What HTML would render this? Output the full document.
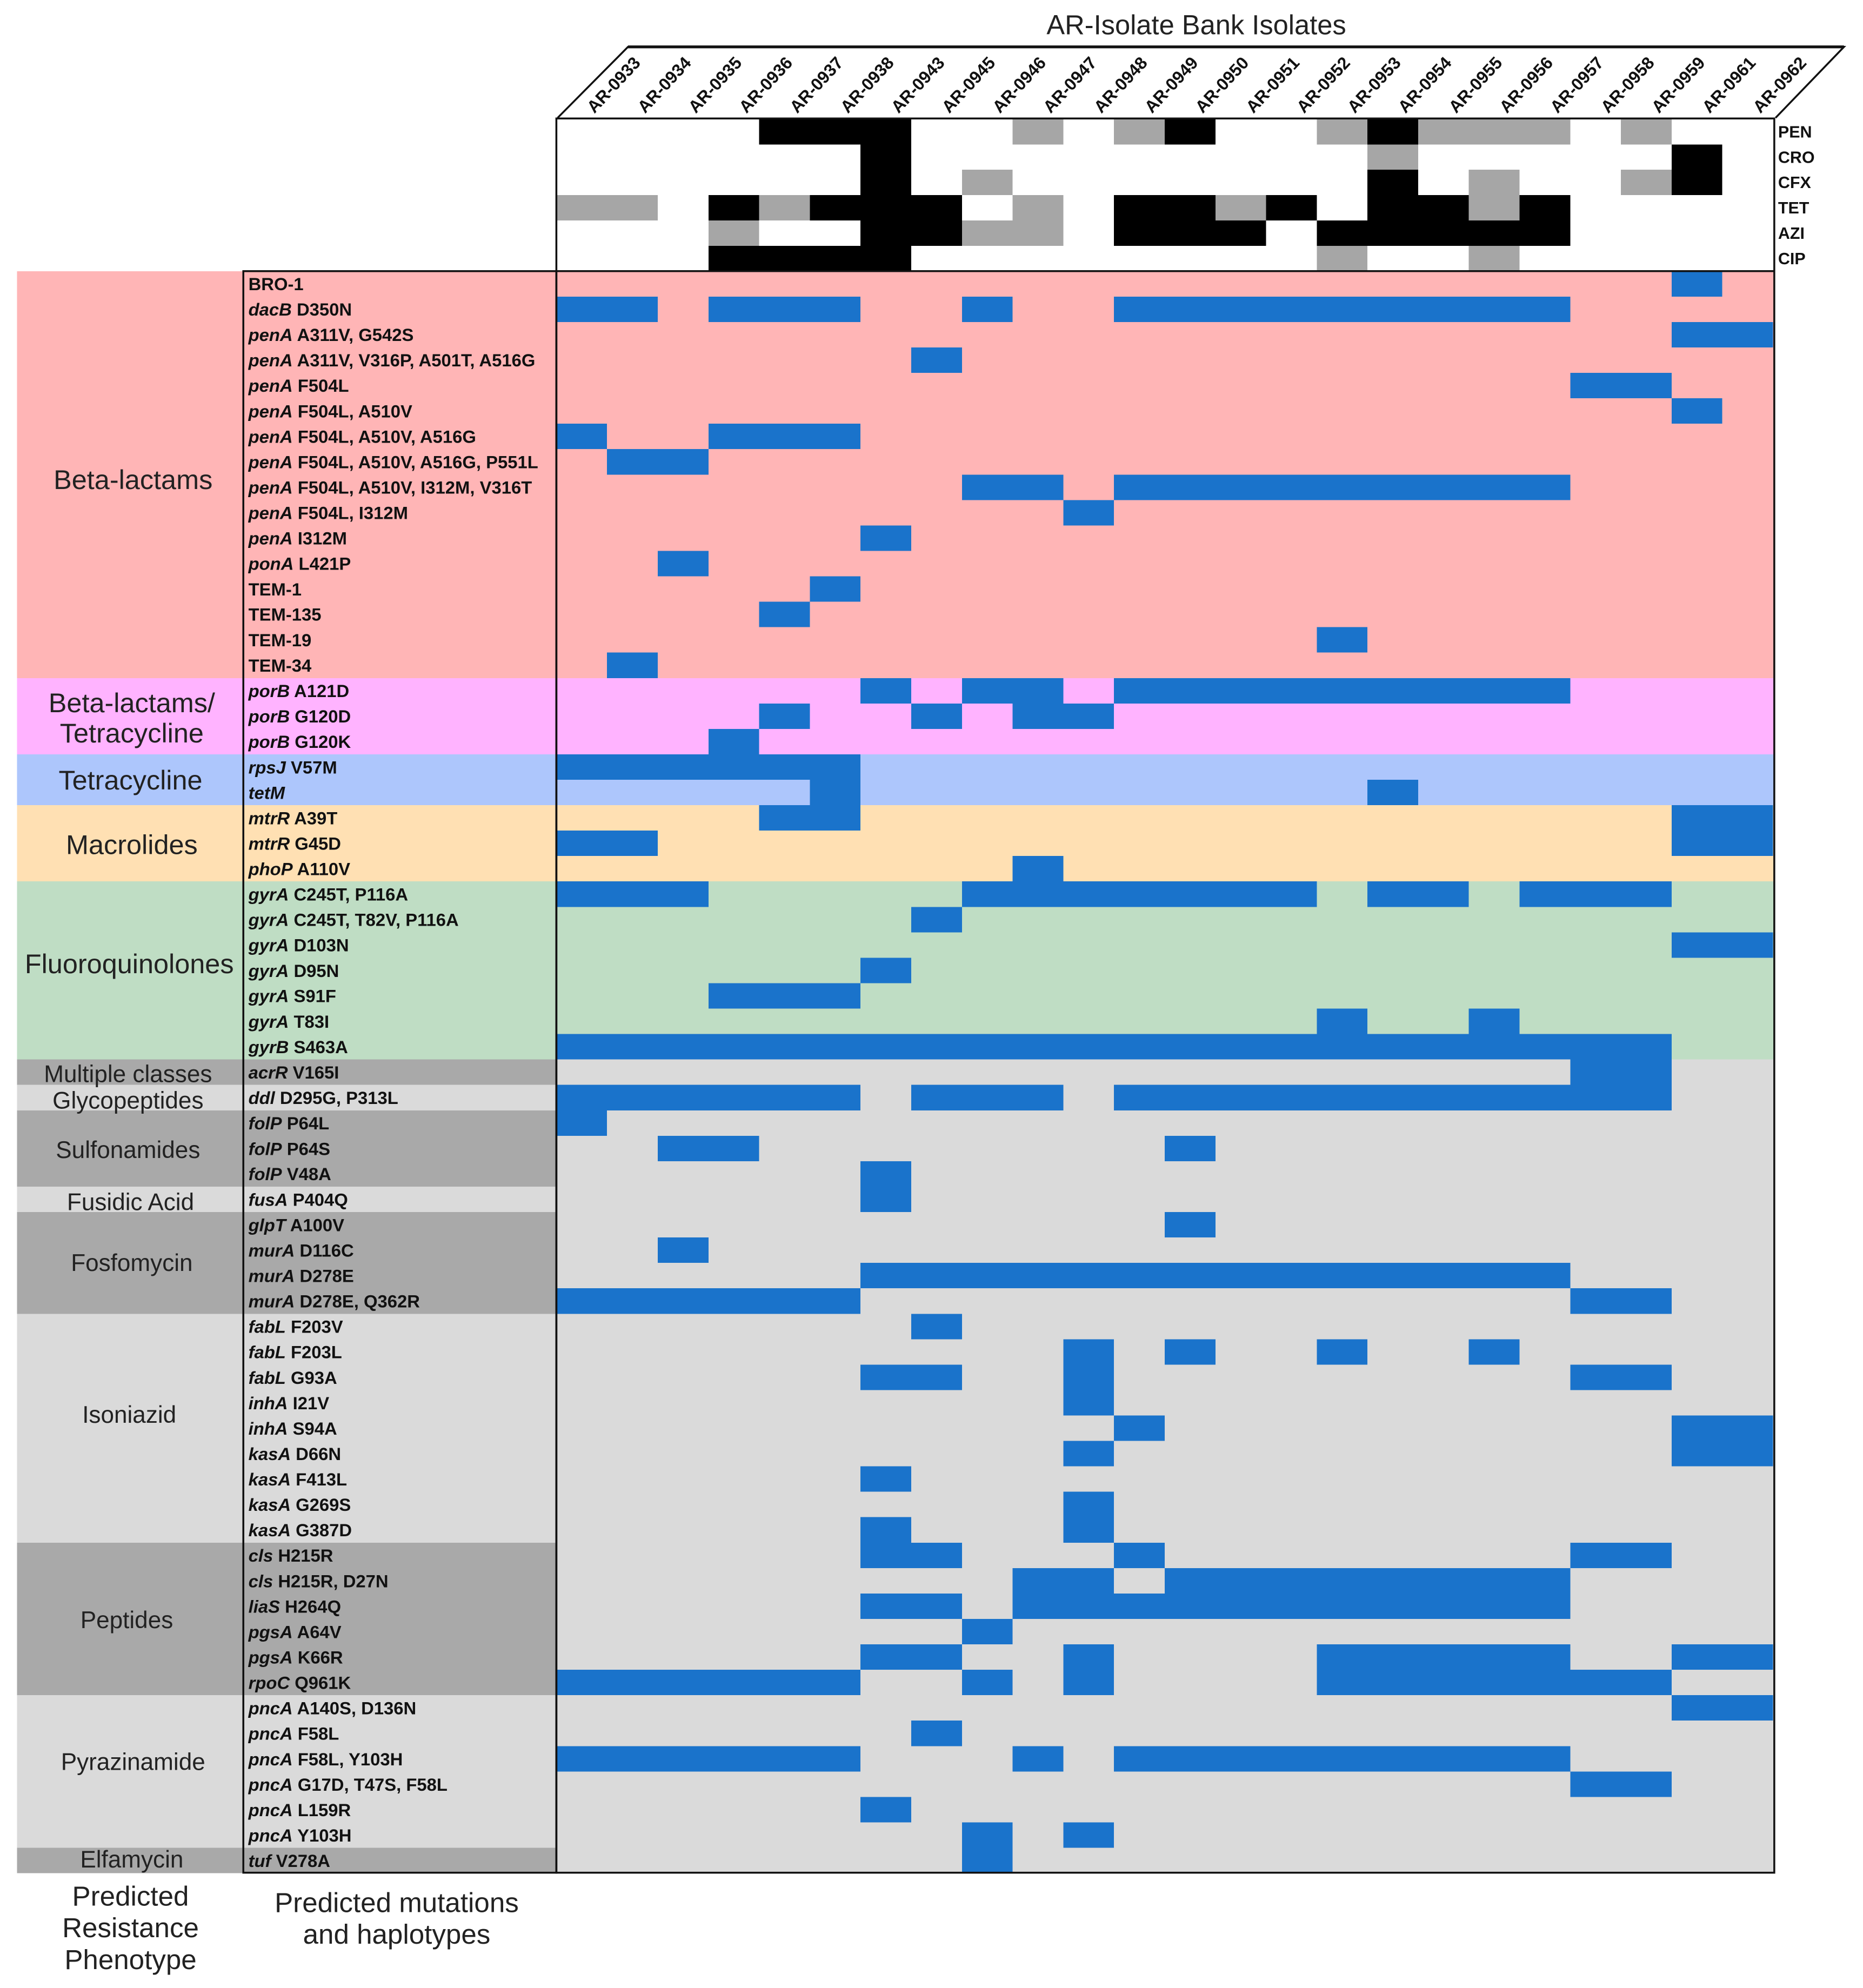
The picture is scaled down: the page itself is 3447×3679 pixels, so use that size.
<!DOCTYPE html>
<html><head><meta charset="utf-8"><style>
html,body{margin:0;padding:0;background:#fff;}
svg{display:block;}
text{font-family:"Liberation Sans",Arial,sans-serif;}
.m{font-size:14px;font-weight:bold;fill:#111;}
.h{font-size:13.6px;font-weight:bold;fill:#111;}
.c{font-size:21.5px;fill:#222;text-anchor:middle;}
.s{font-size:18.8px;fill:#222;text-anchor:middle;}
.f{font-size:21.8px;fill:#222;text-anchor:middle;}
.p{font-size:13px;font-weight:bold;fill:#111;}
</style></head><body>
<svg xmlns="http://www.w3.org/2000/svg" width="3447" height="3679" viewBox="0 0 1470 1569" preserveAspectRatio="none">
<rect width="1470" height="1569" fill="#fff"/>
<g transform="translate(0,214) scale(1,20.07)" shape-rendering="crispEdges">
<rect x="13.5" y="0" width="1386.5" height="16" fill="#FFB5B6"/>
<rect x="13.5" y="16" width="1386.5" height="3" fill="#FFB3FF"/>
<rect x="13.5" y="19" width="1386.5" height="2" fill="#ADC6FC"/>
<rect x="13.5" y="21" width="1386.5" height="3" fill="#FFE0B3"/>
<rect x="13.5" y="24" width="1386.5" height="7" fill="#BFDDC4"/>
<rect x="439" y="31" width="961" height="32" fill="#DADADA"/>
<rect x="13.5" y="31" width="425.5" height="1" fill="#A9A9A9"/>
<rect x="13.5" y="32" width="425.5" height="1" fill="#DADADA"/>
<rect x="13.5" y="33" width="425.5" height="3" fill="#A9A9A9"/>
<rect x="13.5" y="36" width="425.5" height="1" fill="#DADADA"/>
<rect x="13.5" y="37" width="425.5" height="4" fill="#A9A9A9"/>
<rect x="13.5" y="41" width="425.5" height="9" fill="#DADADA"/>
<rect x="13.5" y="50" width="425.5" height="6" fill="#A9A9A9"/>
<rect x="13.5" y="56" width="425.5" height="6" fill="#DADADA"/>
<rect x="13.5" y="62" width="425.5" height="1" fill="#A9A9A9"/>
</g>
<g transform="translate(439,94) scale(40,20)" shape-rendering="crispEdges">
<g fill="#000">
<rect x="4" y="0" width="3" height="1"/><rect x="12" y="0" width="1" height="1"/><rect x="16" y="0" width="1" height="1"/>
<rect x="6" y="1" width="1" height="1"/><rect x="22" y="1" width="1" height="1"/>
<rect x="6" y="2" width="1" height="1"/><rect x="16" y="2" width="1" height="1"/><rect x="22" y="2" width="1" height="1"/>
<rect x="3" y="3" width="1" height="1"/><rect x="5" y="3" width="3" height="1"/><rect x="11" y="3" width="2" height="1"/><rect x="14" y="3" width="1" height="1"/><rect x="16" y="3" width="2" height="1"/><rect x="19" y="3" width="1" height="1"/>
<rect x="6" y="4" width="2" height="1"/><rect x="11" y="4" width="3" height="1"/><rect x="15" y="4" width="5" height="1"/>
<rect x="3" y="5" width="4" height="1"/>
</g>
<g fill="#A6A6A6">
<rect x="9" y="0" width="1" height="1"/><rect x="11" y="0" width="1" height="1"/><rect x="15" y="0" width="1" height="1"/><rect x="17" y="0" width="3" height="1"/><rect x="21" y="0" width="1" height="1"/>
<rect x="16" y="1" width="1" height="1"/>
<rect x="8" y="2" width="1" height="1"/><rect x="18" y="2" width="1" height="1"/><rect x="21" y="2" width="1" height="1"/>
<rect x="0" y="3" width="2" height="1"/><rect x="4" y="3" width="1" height="1"/><rect x="9" y="3" width="1" height="1"/><rect x="13" y="3" width="1" height="1"/><rect x="18" y="3" width="1" height="1"/>
<rect x="3" y="4" width="1" height="1"/><rect x="8" y="4" width="2" height="1"/>
<rect x="15" y="5" width="1" height="1"/><rect x="18" y="5" width="1" height="1"/>
</g>
</g>
<g transform="translate(439,214) scale(40,20.07)" fill="#1A73CB" shape-rendering="crispEdges">
<rect x="22" y="0" width="1" height="1"/>
<rect x="0" y="1" width="2" height="1"/><rect x="3" y="1" width="3" height="1"/><rect x="8" y="1" width="1" height="1"/><rect x="11" y="1" width="9" height="1"/>
<rect x="22" y="2" width="2" height="1"/>
<rect x="7" y="3" width="1" height="1"/>
<rect x="20" y="4" width="2" height="1"/>
<rect x="22" y="5" width="1" height="1"/>
<rect x="0" y="6" width="1" height="1"/><rect x="3" y="6" width="3" height="1"/>
<rect x="1" y="7" width="2" height="1"/>
<rect x="8" y="8" width="2" height="1"/><rect x="11" y="8" width="9" height="1"/>
<rect x="10" y="9" width="1" height="1"/>
<rect x="6" y="10" width="1" height="1"/>
<rect x="2" y="11" width="1" height="1"/>
<rect x="5" y="12" width="1" height="1"/>
<rect x="4" y="13" width="1" height="1"/>
<rect x="15" y="14" width="1" height="1"/>
<rect x="1" y="15" width="1" height="1"/>
<rect x="6" y="16" width="1" height="1"/><rect x="8" y="16" width="2" height="1"/><rect x="11" y="16" width="9" height="1"/>
<rect x="4" y="17" width="1" height="1"/><rect x="7" y="17" width="1" height="1"/><rect x="9" y="17" width="2" height="1"/>
<rect x="3" y="18" width="1" height="1"/>
<rect x="0" y="19" width="6" height="1"/>
<rect x="5" y="20" width="1" height="1"/><rect x="16" y="20" width="1" height="1"/>
<rect x="4" y="21" width="2" height="1"/><rect x="22" y="21" width="2" height="1"/>
<rect x="0" y="22" width="2" height="1"/><rect x="22" y="22" width="2" height="1"/>
<rect x="9" y="23" width="1" height="1"/>
<rect x="0" y="24" width="3" height="1"/><rect x="8" y="24" width="7" height="1"/><rect x="16" y="24" width="2" height="1"/><rect x="19" y="24" width="3" height="1"/>
<rect x="7" y="25" width="1" height="1"/>
<rect x="22" y="26" width="2" height="1"/>
<rect x="6" y="27" width="1" height="1"/>
<rect x="3" y="28" width="3" height="1"/>
<rect x="15" y="29" width="1" height="1"/><rect x="18" y="29" width="1" height="1"/>
<rect x="0" y="30" width="22" height="1"/>
<rect x="20" y="31" width="2" height="1"/>
<rect x="0" y="32" width="6" height="1"/><rect x="7" y="32" width="3" height="1"/><rect x="11" y="32" width="11" height="1"/>
<rect x="0" y="33" width="1" height="1"/>
<rect x="2" y="34" width="2" height="1"/><rect x="12" y="34" width="1" height="1"/>
<rect x="6" y="35" width="1" height="2"/>
<rect x="12" y="37" width="1" height="1"/>
<rect x="2" y="38" width="1" height="1"/>
<rect x="6" y="39" width="14" height="1"/>
<rect x="0" y="40" width="6" height="1"/><rect x="20" y="40" width="2" height="1"/>
<rect x="7" y="41" width="1" height="1"/>
<rect x="10" y="42" width="1" height="1"/><rect x="12" y="42" width="1" height="1"/><rect x="15" y="42" width="1" height="1"/><rect x="18" y="42" width="1" height="1"/>
<rect x="6" y="43" width="2" height="1"/><rect x="10" y="43" width="1" height="1"/><rect x="20" y="43" width="2" height="1"/>
<rect x="10" y="44" width="1" height="1"/>
<rect x="11" y="45" width="1" height="1"/><rect x="22" y="45" width="2" height="2"/>
<rect x="10" y="46" width="1" height="1"/>
<rect x="6" y="47" width="1" height="1"/>
<rect x="10" y="48" width="1" height="1"/>
<rect x="6" y="49" width="1" height="1"/><rect x="10" y="49" width="1" height="1"/>
<rect x="6" y="50" width="2" height="1"/><rect x="11" y="50" width="1" height="1"/><rect x="20" y="50" width="2" height="1"/>
<rect x="9" y="51" width="2" height="1"/><rect x="12" y="51" width="8" height="1"/>
<rect x="6" y="52" width="2" height="1"/><rect x="9" y="52" width="11" height="1"/>
<rect x="8" y="53" width="1" height="1"/>
<rect x="6" y="54" width="2" height="1"/><rect x="10" y="54" width="1" height="1"/><rect x="15" y="54" width="5" height="1"/><rect x="22" y="54" width="2" height="1"/>
<rect x="0" y="55" width="6" height="1"/><rect x="8" y="55" width="1" height="1"/><rect x="10" y="55" width="1" height="1"/><rect x="15" y="55" width="7" height="1"/>
<rect x="22" y="56" width="2" height="1"/>
<rect x="7" y="57" width="1" height="1"/>
<rect x="0" y="58" width="6" height="1"/><rect x="9" y="58" width="1" height="1"/><rect x="11" y="58" width="9" height="1"/>
<rect x="20" y="59" width="2" height="1"/>
<rect x="6" y="60" width="1" height="1"/>
<rect x="8" y="61" width="1" height="2"/><rect x="10" y="61" width="1" height="1"/>
</g>
<g fill="none" stroke="#111">
<rect x="439" y="93.5" width="961" height="1384.5" stroke-width="1.5"/>
<rect x="192" y="214" width="247" height="1264" stroke-width="1.5"/>
<line x1="439" y1="214" x2="1400" y2="214" stroke-width="1.5"/>
<polyline points="440,93 495.5,37 1455,37 1401,93" stroke-width="1.5"/>
<line x1="495.5" y1="37" x2="1455" y2="37" stroke-width="2.2"/>
</g>
<text x="944" y="27" style="font-size:21.6px;fill:#222;" text-anchor="middle">AR-Isolate Bank Isolates</text>
<g class="h">
<text transform="translate(469,90) rotate(-47)">AR-0933</text>
<text transform="translate(509,90) rotate(-47)">AR-0934</text>
<text transform="translate(549,90) rotate(-47)">AR-0935</text>
<text transform="translate(589,90) rotate(-47)">AR-0936</text>
<text transform="translate(629,90) rotate(-47)">AR-0937</text>
<text transform="translate(669,90) rotate(-47)">AR-0938</text>
<text transform="translate(709,90) rotate(-47)">AR-0943</text>
<text transform="translate(749,90) rotate(-47)">AR-0945</text>
<text transform="translate(789,90) rotate(-47)">AR-0946</text>
<text transform="translate(829,90) rotate(-47)">AR-0947</text>
<text transform="translate(869,90) rotate(-47)">AR-0948</text>
<text transform="translate(909,90) rotate(-47)">AR-0949</text>
<text transform="translate(949,90) rotate(-47)">AR-0950</text>
<text transform="translate(989,90) rotate(-47)">AR-0951</text>
<text transform="translate(1029,90) rotate(-47)">AR-0952</text>
<text transform="translate(1069,90) rotate(-47)">AR-0953</text>
<text transform="translate(1109,90) rotate(-47)">AR-0954</text>
<text transform="translate(1149,90) rotate(-47)">AR-0955</text>
<text transform="translate(1189,90) rotate(-47)">AR-0956</text>
<text transform="translate(1229,90) rotate(-47)">AR-0957</text>
<text transform="translate(1269,90) rotate(-47)">AR-0958</text>
<text transform="translate(1309,90) rotate(-47)">AR-0959</text>
<text transform="translate(1349,90) rotate(-47)">AR-0961</text>
<text transform="translate(1389,90) rotate(-47)">AR-0962</text>
</g>
<g class="p">
<text x="1403" y="108.5">PEN</text>
<text x="1403" y="128.5">CRO</text>
<text x="1403" y="148.5">CFX</text>
<text x="1403" y="168.5">TET</text>
<text x="1403" y="188.5">AZI</text>
<text x="1403" y="208.5">CIP</text>
</g>
<g class="m">
<text x="196" y="229">BRO-1</text>
<text x="196" y="249.1"><tspan font-style="italic">dacB</tspan> D350N</text>
<text x="196" y="269.1"><tspan font-style="italic">penA</tspan> A311V, G542S</text>
<text x="196" y="289.2"><tspan font-style="italic">penA</tspan> A311V, V316P, A501T, A516G</text>
<text x="196" y="309.3"><tspan font-style="italic">penA</tspan> F504L</text>
<text x="196" y="329.4"><tspan font-style="italic">penA</tspan> F504L, A510V</text>
<text x="196" y="349.4"><tspan font-style="italic">penA</tspan> F504L, A510V, A516G</text>
<text x="196" y="369.5"><tspan font-style="italic">penA</tspan> F504L, A510V, A516G, P551L</text>
<text x="196" y="389.6"><tspan font-style="italic">penA</tspan> F504L, A510V, I312M, V316T</text>
<text x="196" y="409.7"><tspan font-style="italic">penA</tspan> F504L, I312M</text>
<text x="196" y="429.7"><tspan font-style="italic">penA</tspan> I312M</text>
<text x="196" y="449.8"><tspan font-style="italic">ponA</tspan> L421P</text>
<text x="196" y="469.9">TEM-1</text>
<text x="196" y="489.9">TEM-135</text>
<text x="196" y="510.0">TEM-19</text>
<text x="196" y="530.1">TEM-34</text>
<text x="196" y="550.2"><tspan font-style="italic">porB</tspan> A121D</text>
<text x="196" y="570.2"><tspan font-style="italic">porB</tspan> G120D</text>
<text x="196" y="590.3"><tspan font-style="italic">porB</tspan> G120K</text>
<text x="196" y="610.4"><tspan font-style="italic">rpsJ</tspan> V57M</text>
<text x="196" y="630.5"><tspan font-style="italic">tetM</tspan></text>
<text x="196" y="650.5"><tspan font-style="italic">mtrR</tspan> A39T</text>
<text x="196" y="670.6"><tspan font-style="italic">mtrR</tspan> G45D</text>
<text x="196" y="690.7"><tspan font-style="italic">phoP</tspan> A110V</text>
<text x="196" y="710.7"><tspan font-style="italic">gyrA</tspan> C245T, P116A</text>
<text x="196" y="730.8"><tspan font-style="italic">gyrA</tspan> C245T, T82V, P116A</text>
<text x="196" y="750.9"><tspan font-style="italic">gyrA</tspan> D103N</text>
<text x="196" y="771.0"><tspan font-style="italic">gyrA</tspan> D95N</text>
<text x="196" y="791.0"><tspan font-style="italic">gyrA</tspan> S91F</text>
<text x="196" y="811.1"><tspan font-style="italic">gyrA</tspan> T83I</text>
<text x="196" y="831.2"><tspan font-style="italic">gyrB</tspan> S463A</text>
<text x="196" y="851.2"><tspan font-style="italic">acrR</tspan> V165I</text>
<text x="196" y="871.3"><tspan font-style="italic">ddl</tspan> D295G, P313L</text>
<text x="196" y="891.4"><tspan font-style="italic">folP</tspan> P64L</text>
<text x="196" y="911.5"><tspan font-style="italic">folP</tspan> P64S</text>
<text x="196" y="931.5"><tspan font-style="italic">folP</tspan> V48A</text>
<text x="196" y="951.6"><tspan font-style="italic">fusA</tspan> P404Q</text>
<text x="196" y="971.7"><tspan font-style="italic">glpT</tspan> A100V</text>
<text x="196" y="991.8"><tspan font-style="italic">murA</tspan> D116C</text>
<text x="196" y="1011.8"><tspan font-style="italic">murA</tspan> D278E</text>
<text x="196" y="1031.9"><tspan font-style="italic">murA</tspan> D278E, Q362R</text>
<text x="196" y="1052.0"><tspan font-style="italic">fabL</tspan> F203V</text>
<text x="196" y="1072.0"><tspan font-style="italic">fabL</tspan> F203L</text>
<text x="196" y="1092.1"><tspan font-style="italic">fabL</tspan> G93A</text>
<text x="196" y="1112.2"><tspan font-style="italic">inhA</tspan> I21V</text>
<text x="196" y="1132.3"><tspan font-style="italic">inhA</tspan> S94A</text>
<text x="196" y="1152.3"><tspan font-style="italic">kasA</tspan> D66N</text>
<text x="196" y="1172.4"><tspan font-style="italic">kasA</tspan> F413L</text>
<text x="196" y="1192.5"><tspan font-style="italic">kasA</tspan> G269S</text>
<text x="196" y="1212.5"><tspan font-style="italic">kasA</tspan> G387D</text>
<text x="196" y="1232.6"><tspan font-style="italic">cls</tspan> H215R</text>
<text x="196" y="1252.7"><tspan font-style="italic">cls</tspan> H215R, D27N</text>
<text x="196" y="1272.8"><tspan font-style="italic">liaS</tspan> H264Q</text>
<text x="196" y="1292.8"><tspan font-style="italic">pgsA</tspan> A64V</text>
<text x="196" y="1312.9"><tspan font-style="italic">pgsA</tspan> K66R</text>
<text x="196" y="1333.0"><tspan font-style="italic">rpoC</tspan> Q961K</text>
<text x="196" y="1353.0"><tspan font-style="italic">pncA</tspan> A140S, D136N</text>
<text x="196" y="1373.1"><tspan font-style="italic">pncA</tspan> F58L</text>
<text x="196" y="1393.2"><tspan font-style="italic">pncA</tspan> F58L, Y103H</text>
<text x="196" y="1413.3"><tspan font-style="italic">pncA</tspan> G17D, T47S, F58L</text>
<text x="196" y="1433.3"><tspan font-style="italic">pncA</tspan> L159R</text>
<text x="196" y="1453.4"><tspan font-style="italic">pncA</tspan> Y103H</text>
<text x="196" y="1473.5"><tspan font-style="italic">tuf</tspan> V278A</text>
</g>
<text class="c" x="105" y="386">Beta-lactams</text>
<text class="c" x="104" y="562">Beta-lactams/</text>
<text class="c" x="104" y="586">Tetracycline</text>
<text class="c" x="103" y="623">Tetracycline</text>
<text class="c" x="104" y="674">Macrolides</text>
<text class="c" x="102" y="768">Fluoroquinolones</text>
<text class="s" x="101" y="854">Multiple classes</text>
<text class="s" x="101" y="875">Glycopeptides</text>
<text class="s" x="101" y="914">Sulfonamides</text>
<text class="s" x="103" y="955">Fusidic Acid</text>
<text class="s" x="104" y="1003">Fosfomycin</text>
<text class="s" x="102" y="1123">Isoniazid</text>
<text class="s" x="100" y="1285">Peptides</text>
<text class="s" x="105" y="1397">Pyrazinamide</text>
<text class="s" x="104" y="1474">Elfamycin</text>
<text class="f" x="103" y="1504">Predicted</text>
<text class="f" x="103" y="1529">Resistance</text>
<text class="f" x="103" y="1554">Phenotype</text>
<text class="f" x="313" y="1509">Predicted mutations</text>
<text class="f" x="313" y="1534">and haplotypes</text>
</svg>
</body></html>
